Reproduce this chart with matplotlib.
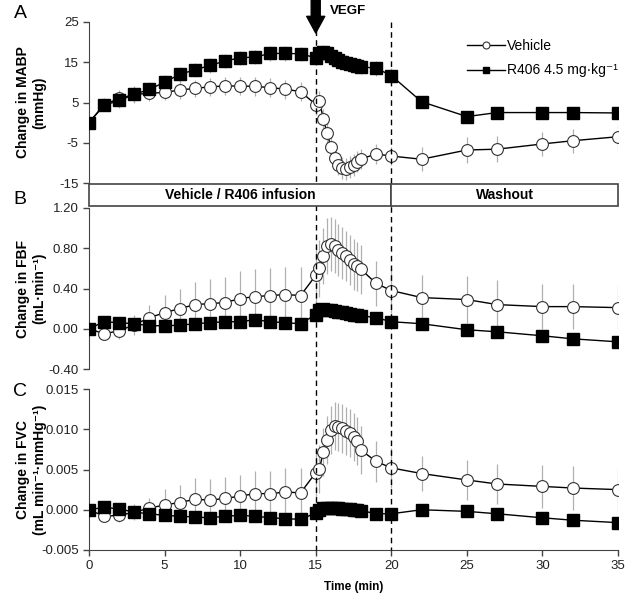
import matplotlib
matplotlib.use("Agg")
import matplotlib.pyplot as plt
from matplotlib import patches, transforms
from matplotlib.lines import Line2D

plt.rcParams['font.family'] = ['Liberation Sans', 'DejaVu Sans']

# ===== data =====
time_min = [0, 1, 2, 3, 4, 5, 6, 7, 8, 9, 10, 11, 12, 13, 14, 15,
            15.25, 15.5, 15.75, 16, 16.25, 16.5, 16.75, 17, 17.25, 17.5, 17.75, 18,
            19, 20, 22, 25, 27, 30, 32, 35]

# A: MABP (mmHg)
mabp_veh = [0, 4.5, 6.0, 7.0, 7.3, 7.5, 8.1, 8.5, 8.9, 9.1, 9.1, 9.0, 8.7, 8.3, 7.7, 4.5,
            5.4, 0.9, -2.5, -6.0, -8.8, -10.5, -11.3, -11.5, -11.0, -10.5, -9.7, -9.0,
            -7.8, -8.3, -9.1, -6.8, -6.6, -5.3, -4.5, -3.5]
mabp_veh_sem = [0, 1.5, 2.0, 2.0, 2.0, 2.0, 2.2, 2.2, 2.3, 2.3, 2.3, 2.3, 2.3, 2.4, 2.4, 2.5,
                2.5, 2.5, 2.5, 2.5, 2.5, 2.6, 2.7, 2.8, 2.8, 2.7, 2.6, 2.5,
                2.4, 2.2, 3.0, 3.2, 3.2, 3.0, 3.0, 3.2]
mabp_r406 = [0, 4.3, 5.5, 7.0, 8.3, 10.0, 12.0, 13.1, 14.2, 15.3, 16.1, 16.3, 17.2, 17.2, 17.1, 16.1,
             17.2, 17.5, 17.2, 16.6, 16.0, 15.6, 15.1, 14.9, 14.6, 14.3, 14.1, 13.9,
             13.5, 11.7, 5.2, 1.5, 2.5, 2.5, 2.5, 2.4]
mabp_r406_sem = [0, 1.5, 1.8, 1.8, 1.8, 1.8, 1.8, 1.8, 1.8, 1.8, 1.8, 1.8, 1.8, 1.8, 1.8, 1.8,
                 1.8, 1.8, 1.8, 1.8, 1.8, 1.8, 1.8, 1.8, 1.8, 1.8, 1.8, 1.8,
                 1.8, 1.8, 1.5, 1.5, 1.5, 1.5, 1.5, 1.5]

# B: FBF (mL/min)
fbf_veh = [0, -0.05, -0.02, 0.04, 0.11, 0.16, 0.20, 0.24, 0.25, 0.26, 0.30, 0.32, 0.33, 0.34, 0.33, 0.53,
           0.60, 0.72, 0.82, 0.84, 0.82, 0.78, 0.75, 0.72, 0.68, 0.64, 0.62, 0.59,
           0.45, 0.38, 0.31, 0.29, 0.24, 0.22, 0.22, 0.21]
fbf_veh_sem = [0, 0.05, 0.08, 0.10, 0.13, 0.18, 0.20, 0.22, 0.24, 0.25, 0.27, 0.27, 0.27, 0.27, 0.28, 0.28,
               0.28, 0.28, 0.28, 0.27, 0.27, 0.26, 0.26, 0.25, 0.25, 0.25, 0.24, 0.24,
               0.22, 0.22, 0.22, 0.23, 0.24, 0.22, 0.22, 0.22]
fbf_r406 = [0, 0.07, 0.06, 0.05, 0.03, 0.03, 0.035, 0.05, 0.06, 0.07, 0.07, 0.09, 0.07, 0.06, 0.05, 0.14,
            0.19, 0.20, 0.19, 0.19, 0.18, 0.17, 0.165, 0.16, 0.15, 0.14, 0.135, 0.13,
            0.11, 0.07, 0.05, -0.01, -0.03, -0.07, -0.10, -0.13]
fbf_r406_sem = [0, 0.03, 0.03, 0.03, 0.03, 0.03, 0.03, 0.03, 0.03, 0.03, 0.03, 0.03, 0.03, 0.03, 0.03, 0.04,
                0.04, 0.04, 0.04, 0.04, 0.04, 0.04, 0.04, 0.04, 0.04, 0.04, 0.04, 0.04,
                0.04, 0.04, 0.04, 0.04, 0.04, 0.04, 0.04, 0.04]

# C: FVC (mL min-1 mmHg-1)
fvc_veh = [0, -0.0008, -0.0007, -0.0003, 0.0002, 0.0006, 0.0009, 0.0013, 0.0012, 0.0014, 0.0017, 0.0020,
           0.0020, 0.0022, 0.0021, 0.0046,
           0.0051, 0.0072, 0.0087, 0.0099, 0.0104, 0.0103, 0.0101, 0.0098, 0.0095, 0.0090, 0.0085, 0.0074,
           0.0060, 0.0052, 0.0045, 0.0037, 0.0032, 0.0029, 0.0027, 0.0025]
fvc_veh_sem = [0, 0.0006, 0.0008, 0.0010, 0.0012, 0.0020, 0.0022, 0.0027, 0.0026, 0.0027, 0.0026, 0.0028,
               0.0028, 0.0030, 0.0031, 0.0030,
               0.0030, 0.0030, 0.0030, 0.0030, 0.0030, 0.0030, 0.0030, 0.0030, 0.0030, 0.0030, 0.0030, 0.0030,
               0.0025, 0.0025, 0.0022, 0.0025, 0.0025, 0.0027, 0.0027, 0.0027]
fvc_r406 = [0, 0.0003, 0.0001, -0.0003, -0.0005, -0.0007, -0.0008, -0.0009, -0.0010, -0.0008, -0.0007, -0.0008,
            -0.0010, -0.0011, -0.0012, -0.0004,
            0.0000, 0.0002, 0.0002, 0.0002, 0.0002, 0.0002, 0.0001, 0.0001, 0.0001, 0.0000, 0.0000, -0.0001,
            -0.0005, -0.0005, 0.0000, -0.0002, -0.0005, -0.0010, -0.0013, -0.0016]
fvc_r406_sem = [0.0003] * len(time_min)

GREY_ERR = '#b0b0b0'
SPINE = '#444444'

fig = plt.figure(figsize=(6.29, 5.94), dpi=100)
W, H = 629.0, 594.0
x0, x1 = 89 / W, 618 / W

def px_axes(top, bottom):
    return fig.add_axes([x0, 1 - bottom / H, x1 - x0, (bottom - top) / H])

axA = px_axes(22, 183)
axB = px_axes(208, 369)
axC = px_axes(389, 550)

def draw_panel(ax, veh, veh_sem, r406, r406_sem, ylim, yticks, fmt, ylabel, show_x):
    ax.errorbar(time_min, veh, yerr=veh_sem, fmt='none', ecolor=GREY_ERR, elinewidth=0.9, capsize=0, zorder=1)
    ax.errorbar(time_min, r406, yerr=r406_sem, fmt='none', ecolor=GREY_ERR, elinewidth=0.9, capsize=0, zorder=1)
    ax.plot(time_min, veh, '-o', color='black', lw=1, ms=8.5, mfc='white', mec='#333333', mew=0.8, zorder=3)
    ax.plot(time_min, r406, '-s', color='black', lw=1, ms=8.5, mfc='black', mec='black', zorder=4)
    ax.set_xlim(0, 35)
    ax.set_ylim(*ylim)
    ax.set_yticks(yticks)
    ax.set_yticklabels([fmt.format(v) for v in yticks])
    for s in ['top', 'right']:
        ax.spines[s].set_visible(False)
    ax.spines['left'].set_color(SPINE)
    ax.spines['bottom'].set_color(SPINE)
    ax.tick_params(axis='both', colors=SPINE, labelcolor='#222222', labelsize=9.5, length=4, width=1)
    if show_x:
        ax.set_xticks([0, 5, 10, 15, 20, 25, 30, 35])
    else:
        ax.spines['bottom'].set_visible(False)
        ax.set_xticks([])
    ax.set_ylabel(ylabel, fontsize=10, fontweight='bold', linespacing=1.2)
    ax.yaxis.set_label_coords(-0.08, 0.5)
    ax.patch.set_alpha(0)

draw_panel(axA, mabp_veh, mabp_veh_sem, mabp_r406, mabp_r406_sem, (-15, 25),
           [-15, -5, 5, 15, 25], '{:.0f}', 'Change in MABP\n(mmHg)', False)
draw_panel(axB, fbf_veh, fbf_veh_sem, fbf_r406, fbf_r406_sem, (-0.4, 1.2),
           [-0.4, 0.0, 0.4, 0.8, 1.2], '{:.2f}', 'Change in FBF\n(mL·min⁻¹)', False)
draw_panel(axC, fvc_veh, fvc_veh_sem, fvc_r406, fvc_r406_sem, (-0.005, 0.015),
           [-0.005, 0.0, 0.005, 0.010, 0.015], '{:.3f}', 'Change in FVC\n(mL min⁻¹·mmHg⁻¹)', True)
axC.set_xlabel('Time (min)', fontsize=8.5, fontweight='bold', labelpad=6)

# panel letters
for letter, ypx in [('A', 14), ('B', 200), ('C', 392)]:
    fig.text(20 / W, 1 - ypx / H, letter, fontsize=14, ha='center', va='center')

# dashed lines for VEGF start and end of infusion
blend = transforms.blended_transform_factory(axC.transData, fig.transFigure)
for t, top_px in [(15, 30), (20, 22)]:
    fig.add_artist(Line2D([t, t], [1 - top_px / H, 1 - 550 / H], transform=blend,
                          color='black', lw=1, ls=(0, (4, 3)), zorder=5))

# infusion / washout box
box_top, box_bot = 1 - 184 / H, 1 - 206 / H
for (a, b, label) in [(0, 20, 'Vehicle / R406 infusion'), (20, 35, 'Washout')]:
    fig.add_artist(patches.Rectangle((a, box_bot), b - a, box_top - box_bot, transform=blend,
                                     facecolor='white', edgecolor='#444444', lw=1.2, zorder=6))
    fig.text((a + b) / 2, (box_top + box_bot) / 2, label, transform=blend, ha='center', va='center',
             fontsize=10, fontweight='bold', zorder=7)

# VEGF arrow
axA.annotate('', xy=(15, 1 - 33 / H), xycoords=blend, xytext=(15, 1.0), textcoords=blend,
             arrowprops=dict(width=6.5, headwidth=13, headlength=12, shrink=0,
                             facecolor='black', edgecolor='black'),
             annotation_clip=False, zorder=8)
fig.text(330 / W, 1 - 11 / H, 'VEGF', fontsize=9.5, fontweight='bold', ha='left', va='center')

# legend
handles = [Line2D([], [], color='black', lw=1, marker='o', ms=5, mfc='white', mec='#333333', mew=0.8),
           Line2D([], [], color='black', lw=1, marker='s', ms=5, mfc='black', mec='black')]
fig.legend(handles, ['Vehicle', 'R406 4.5 mg·kg⁻¹'], loc='upper left',
           bbox_to_anchor=(467 / W, 1 - 39 / H), bbox_transform=fig.transFigure,
           frameon=False, fontsize=10, handlelength=2.7, handletextpad=0.2,
           labelspacing=0.75, borderpad=0, borderaxespad=0)

fig.savefig('out.png', dpi=100)
